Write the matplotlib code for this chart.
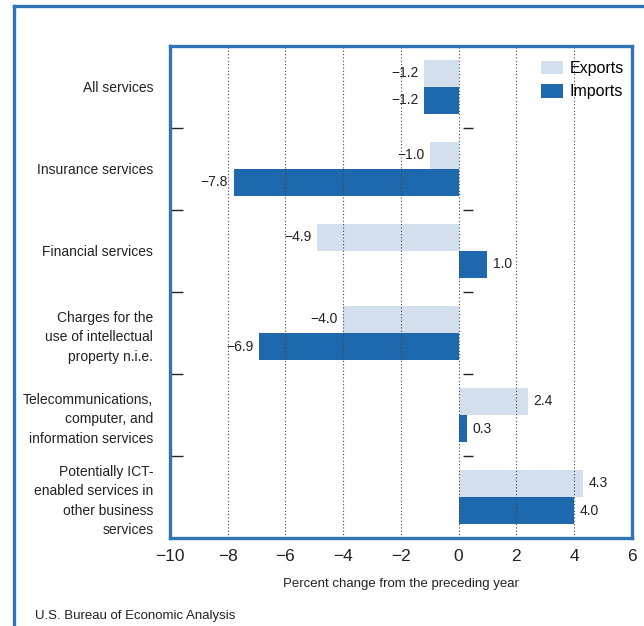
import matplotlib

matplotlib.use("Agg")

import matplotlib.pyplot as plt
import numpy as np
from matplotlib.lines import Line2D
from matplotlib.patches import Patch

CATEGORIES = [
    "All services",
    "Insurance services",
    "Financial services",
    "Charges for the\nuse of intellectual\nproperty n.i.e.",
    "Telecommunications,\ncomputer, and\ninformation services",
    "Potentially ICT-\nenabled services in\nother business\nservices",
]
EXPORTS = [-1.2, -1.0, -4.9, -4.0, 2.4, 4.3]
IMPORTS = [-1.2, -7.8, 1.0, -6.9, 0.3, 4.0]
XTICKS = [-10, -8, -6, -4, -2, 0, 2, 4, 6]

EXPORT_COLOR = "#d3dfed"
IMPORT_COLOR = "#1e69ad"
FRAME_COLOR = "#2f74b5"

plt.rcParams["font.family"] = ["Liberation Sans", "DejaVu Sans"]

fig = plt.figure(figsize=(6.44, 6.26), dpi=100)
ax = fig.add_axes([0.264, 0.1406, 0.717, 0.786])

y = np.arange(len(CATEGORIES))
h = 0.33
ax.barh(y - h / 2, EXPORTS, height=h, color=EXPORT_COLOR, zorder=1)
ax.barh(y + h / 2, IMPORTS, height=h, color=IMPORT_COLOR, zorder=1)

for yy, vals in ((y - h / 2, EXPORTS), (y + h / 2, IMPORTS)):
    for yi, v in zip(yy, vals):
        off = 4 if v >= 0 else -4
        ax.annotate(f"{v:.1f}".replace("-", "\u2212"), (v, yi), xytext=(off, 0),
                    textcoords="offset points", ha="left" if v >= 0 else "right",
                    va="center", fontsize=10, color="#222222")

ax.set_xlim(-10, 6)
ax.set_ylim(len(CATEGORIES) - 0.5, -0.5)
ax.set_xticks(XTICKS)
ax.set_xticklabels([str(t).replace("-", "\u2212") for t in XTICKS])
ax.tick_params(axis="x", length=0, pad=8, labelsize=12.5, colors="#222222")

ax.set_yticks(y)
ax.set_yticklabels(CATEGORIES, fontsize=10, linespacing=1.5)
ax.tick_params(axis="y", which="major", length=0, pad=12, colors="#222222")
ax.set_yticks(y[:-1] + 0.5, minor=True)
ax.tick_params(axis="y", which="minor", direction="in", length=9, width=1, color="#222222")
ax.hlines(y[:-1] + 0.5, 0.15, 0.5, color="#222222", linewidth=1, zorder=3)

for t in XTICKS[1:-1]:
    ax.axvline(t, color="#444444", linestyle=(0, (1, 2)), linewidth=0.8, zorder=2)

for s in ax.spines.values():
    s.set_color(FRAME_COLOR)
    s.set_linewidth(2.4)

ax.set_xlabel("Percent change from the preceding year", fontsize=9.5, labelpad=10, color="#222222")

handles = [Patch(facecolor=EXPORT_COLOR, label="Exports"), Patch(facecolor=IMPORT_COLOR, label="Imports")]
ax.legend(handles=handles, loc="upper right", bbox_to_anchor=(1.015, 1.0), frameon=False,
          fontsize=11.5, handlelength=1.4, handleheight=0.9, handletextpad=0.4,
          labelspacing=0.5, borderaxespad=0.55)

fig.text(35 / 644, 1 - 616 / 626, "U.S. Bureau of Economic Analysis", fontsize=9.5,
         va="center", ha="left", color="#222222")

# outer frame (left and top edges)
fig.add_artist(Line2D([13.5 / 644, 13.5 / 644], [0, 1 - 6 / 626], transform=fig.transFigure,
                      color=FRAME_COLOR, linewidth=2.4))
fig.add_artist(Line2D([13.5 / 644, 1], [1 - 6 / 626, 1 - 6 / 626], transform=fig.transFigure,
                      color=FRAME_COLOR, linewidth=2.4))

fig.savefig("out.png", dpi=100)
